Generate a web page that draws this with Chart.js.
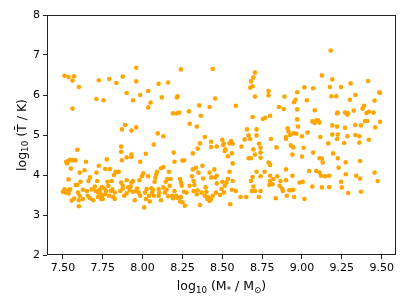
<!DOCTYPE html>
<html>
<head>
<meta charset="utf-8">
<script src="https://cdn.jsdelivr.net/npm/chart.js@4/dist/chart.umd.min.js"></script>
<style>
  html, body { margin: 0; padding: 0; background: #fff; }
  #wrap { width: 407px; height: 305px; }
</style>
</head>
<body>
<div id="wrap"><canvas id="chart" width="407" height="305"></canvas></div>
<script>
// --- data (log10 M* vs log10 T) ---

// hot tail, T above ~5.3
const massHot = [
    7.51, 7.535, 7.57, 7.56, 7.60, 7.56, 7.725, 7.79, 7.835, 7.875,
    7.96, 7.96, 7.90, 7.71, 7.755, 7.985, 8.035, 8.05, 8.035, 8.10,
    8.16, 8.12, 7.94, 8.24, 8.215, 8.22, 8.19, 8.215, 8.23, 8.29,
    8.44, 8.455, 8.355, 8.42, 8.365, 8.585, 8.68, 8.705, 8.695, 8.69,
    8.675, 8.705, 8.69, 8.79, 8.79, 8.755, 8.77, 8.80, 8.855, 8.89,
    8.885, 8.96, 8.95, 8.97, 9.015, 9.07, 9.03, 8.97, 9.08, 9.18,
    9.125, 9.19, 9.175, 9.185, 9.215, 9.245, 9.305, 9.335, 9.30, 9.22,
    9.225, 9.27, 9.285, 9.29, 9.325, 9.415, 9.39, 9.38, 9.405, 9.42,
    9.455, 9.485, 9.49, 9.45, 9.49
];
const tempHot = [
    6.48, 6.45, 6.47, 6.36, 6.20, 5.66, 6.37, 6.40, 6.30, 6.46,
    6.68, 6.34, 6.05, 5.90, 5.87, 6.00, 6.10, 5.81, 5.69, 6.28,
    6.31, 5.94, 5.87, 6.64, 5.94, 5.97, 5.54, 5.54, 5.56, 5.59,
    6.65, 5.91, 5.74, 5.70, 5.48, 5.73, 6.34, 6.56, 6.44, 6.22,
    6.18, 5.96, 5.45, 6.10, 5.99, 5.40, 5.43, 5.48, 5.70, 5.96,
    5.65, 5.88, 5.82, 6.07, 6.19, 6.17, 5.87, 5.64, 5.62, 7.11,
    6.49, 6.39, 6.20, 5.97, 5.97, 6.20, 6.29, 6.00, 5.88, 5.54,
    5.56, 5.56, 5.51, 5.54, 5.61, 6.35, 5.73, 5.66, 5.55, 5.58,
    5.86, 6.07, 6.05, 5.56, 5.33
];

// warm middle band
const massWarm = [
    7.59, 7.865, 7.865, 7.87, 7.87, 7.89, 7.93, 7.96, 7.93, 7.93,
    7.90, 8.02, 8.07, 8.095, 8.13, 8.195, 8.20, 8.25, 8.26, 8.315,
    8.295, 8.34, 8.36, 8.345, 8.39, 8.43, 8.43, 8.465, 8.50, 8.51,
    8.505, 8.52, 8.515, 8.535, 8.555, 8.565, 8.56, 8.565, 8.545, 8.62,
    8.64, 8.655, 8.665, 8.675, 8.665, 8.68, 8.695, 8.705, 8.715, 8.715,
    8.73, 8.74, 8.74, 8.74, 8.805, 8.79, 8.80, 8.84, 8.90, 8.915,
    8.91, 8.90, 8.925, 8.93, 8.945, 8.945, 8.94, 8.965, 8.975, 8.97,
    9.00, 9.01, 9.035, 9.00, 9.065, 9.08, 9.09, 9.10, 9.11, 9.07,
    9.115, 9.11, 9.125, 9.13, 9.19, 9.165, 9.195, 9.19, 9.22, 9.225,
    9.22, 9.225, 9.23, 9.27, 9.285, 9.265, 9.275, 9.335, 9.335, 9.36,
    9.37, 9.36, 9.395, 9.41, 9.42, 9.365, 9.46, 9.455, 9.475
];
const tempWarm = [
    4.63, 4.71, 4.58, 4.37, 5.14, 5.25, 5.11, 5.19, 4.51, 4.45,
    4.44, 4.53, 4.76, 5.04, 4.97, 4.56, 4.33, 4.36, 4.37, 4.54,
    5.28, 5.21, 4.79, 4.66, 4.95, 4.83, 4.70, 4.71, 4.88, 4.78,
    4.75, 4.64, 4.60, 4.47, 4.85, 4.78, 4.54, 4.29, 4.79, 4.71,
    4.89, 5.14, 4.99, 4.90, 4.42, 4.42, 4.64, 4.51, 5.14, 4.99,
    4.78, 4.68, 4.43, 4.56, 4.90, 4.31, 4.25, 4.69, 4.95, 5.09,
    5.17, 4.90, 5.00, 4.74, 5.04, 4.69, 4.51, 5.03, 5.21, 5.39,
    4.97, 4.68, 5.06, 4.46, 5.34, 5.30, 5.37, 5.37, 5.31, 4.56,
    4.95, 4.42, 4.41, 4.31, 5.01, 4.79, 4.54, 5.24, 5.21, 5.01,
    4.90, 4.42, 4.18, 5.18, 4.97, 4.80, 4.32, 5.25, 5.00, 4.97,
    5.24, 4.81, 5.35, 5.35, 4.88, 4.35, 5.19, 4.06, 3.85
];

// dense cool clump around T ~ 10^3.6
const massCool = [
    7.52, 7.525, 7.535, 7.545, 7.555, 7.565, 7.58, 7.55, 7.535, 7.50,
    7.51, 7.515, 7.525, 7.53, 7.54, 7.545, 7.535, 7.555, 7.57, 7.58,
    7.59, 7.595, 7.60, 7.60, 7.605, 7.605, 7.61, 7.625, 7.625, 7.635,
    7.645, 7.65, 7.66, 7.655, 7.67, 7.67, 7.68, 7.69, 7.70, 7.705,
    7.71, 7.715, 7.72, 7.72, 7.725, 7.73, 7.735, 7.74, 7.745, 7.745,
    7.75, 7.76, 7.765, 7.765, 7.77, 7.775, 7.78, 7.785, 7.79, 7.795,
    7.80, 7.805, 7.81, 7.815, 7.82, 7.825, 7.825, 7.83, 7.84, 7.85,
    7.865, 7.86, 7.875, 7.875, 7.885, 7.90, 7.90, 7.91, 7.92, 7.925,
    7.93, 7.94, 7.94, 7.95, 7.96, 7.965, 7.975, 7.98, 7.985, 7.985,
    7.995, 8.005, 8.01, 8.015, 8.02, 8.025, 8.035, 8.04, 8.045, 8.055,
    8.06, 8.065, 8.07, 8.075, 8.08, 8.085, 8.09, 8.10, 8.10, 8.115,
    8.105, 8.115, 8.13, 8.13, 8.14, 8.145, 8.15, 8.155, 8.16, 8.165,
    8.17, 8.175, 8.185, 8.19, 8.20, 8.21, 8.22, 8.235, 8.235, 8.24,
    8.245, 8.24, 8.25, 8.26, 8.265, 8.275, 8.295, 8.31, 8.315, 8.32,
    8.32, 8.325, 8.335, 8.34, 8.345, 8.35, 8.36, 8.37, 8.375, 8.38,
    8.39, 8.395, 8.40, 8.405, 8.41, 8.42, 8.42, 8.43, 8.43, 8.44,
    8.45, 8.455, 8.46, 8.465, 8.465, 8.485, 8.495, 8.50, 8.51, 8.515,
    8.525, 8.535, 8.545, 8.55, 8.56, 8.565, 8.585, 8.615, 8.65, 8.68,
    8.685, 8.695, 8.69, 8.705, 8.715, 8.73, 8.74, 8.74, 8.765, 8.795,
    8.80, 8.80, 8.815, 8.82, 8.835, 8.845, 8.86, 8.865, 8.875, 8.88,
    8.90, 8.90, 8.905, 8.92, 8.93, 8.94, 8.945, 8.95, 8.985, 9.005,
    9.015, 9.045, 9.065, 9.09, 9.11, 9.12, 9.125, 9.145, 9.17, 9.17,
    9.245, 9.25, 9.275, 9.29, 9.34, 9.365, 9.37
];
const tempCool = [
    4.33, 4.29, 4.35, 4.38, 4.37, 4.37, 4.37, 4.16, 3.89, 3.58,
    3.64, 3.56, 3.60, 3.58, 3.62, 3.64, 3.54, 3.36, 3.41, 3.75,
    3.75, 3.56, 3.37, 3.22, 3.48, 4.06, 3.83, 3.63, 3.40, 4.12,
    4.33, 3.60, 3.85, 3.48, 3.42, 3.94, 3.64, 3.37, 3.71, 3.60,
    4.06, 3.85, 3.56, 3.45, 4.23, 3.63, 3.54, 3.40, 3.48, 3.70,
    3.40, 3.66, 4.15, 3.52, 3.60, 4.39, 3.83, 3.73, 3.48, 4.15,
    3.60, 3.85, 3.64, 3.45, 4.00, 3.40, 3.56, 4.08, 4.07, 4.08,
    3.81, 3.60, 3.73, 3.66, 3.48, 3.54, 3.87, 3.69, 3.62, 3.71,
    3.81, 3.58, 3.85, 3.37, 3.60, 3.66, 3.56, 3.87, 3.48, 4.33,
    3.97, 4.04, 3.19, 3.56, 3.40, 3.65, 3.97, 3.48, 3.34, 3.67,
    3.56, 3.63, 3.48, 3.83, 3.93, 4.02, 4.08, 3.65, 3.48, 3.37,
    3.56, 4.17, 4.20, 3.69, 3.56, 3.83, 3.63, 3.90, 3.47, 4.08,
    3.73, 3.90, 3.48, 3.42, 3.60, 3.48, 3.43, 3.34, 3.90, 3.81,
    3.73, 3.45, 3.32, 3.58, 3.23, 3.56, 3.73, 3.97, 4.14, 3.85,
    3.60, 3.75, 4.18, 3.52, 3.62, 4.06, 3.25, 3.56, 4.23, 3.91,
    3.48, 3.69, 3.58, 3.40, 3.45, 3.35, 4.06, 3.94, 3.40, 3.48,
    4.14, 3.94, 3.56, 3.79, 3.98, 3.50, 3.65, 3.83, 3.56, 3.73,
    3.81, 3.90, 4.08, 3.27, 3.63, 3.85, 3.60, 3.45, 3.45, 3.85,
    3.60, 3.71, 3.95, 3.60, 4.08, 3.45, 3.60, 3.97, 4.08, 3.75,
    3.98, 3.85, 3.77, 3.90, 3.42, 3.97, 3.73, 3.85, 3.66, 3.60,
    4.14, 3.87, 3.48, 3.62, 3.62, 3.98, 3.63, 3.45, 3.81, 3.83,
    3.40, 4.10, 3.71, 4.10, 4.06, 3.98, 3.69, 3.97, 3.98, 3.70,
    3.83, 3.69, 4.02, 3.55, 3.98, 3.91, 3.58
];

const xTicks = [7.50, 7.75, 8.00, 8.25, 8.50, 8.75, 9.00, 9.25, 9.50];
const yTicks = [2, 3, 4, 5, 6, 7, 8];

// axis titles as pieces so subscripts can be drawn smaller and lower
const xTitleParts = [['log'], ['10', 'sub'], [' (M'], ['*', 'sub'], [' / M'], ['\u2299', 'sub'], [')']];
const yTitleParts = [['log'], ['10', 'sub'], [' (T\u0304 / K)']];

// --- build points ---

function toPoints(xs, ys) {
    return xs.map((x, i) => ({ x: x, y: ys[i] }));
}

const points = [
    ...toPoints(massCool, tempCool),
    ...toPoints(massWarm, tempWarm),
    ...toPoints(massHot, tempHot)
];

const FONT = "'DejaVu Sans', sans-serif";
const TITLE_SIZE = 12.5;
const SUB_SIZE = 8.75;

function drawParts(ctx, parts, cx, baseY) {
    const fontFor = p => (p[1] === 'sub' ? SUB_SIZE : TITLE_SIZE) + 'px ' + FONT;
    let total = 0;
    parts.forEach(p => { ctx.font = fontFor(p); total += ctx.measureText(p[0]).width; });
    let x = cx - total / 2;
    parts.forEach(p => {
        ctx.font = fontFor(p);
        const dy = p[1] === 'sub' ? 2.6 : 0;
        ctx.fillText(p[0], x, baseY + dy);
        x += ctx.measureText(p[0]).width;
    });
}

// matplotlib style box around the axes, plus the axis titles
const frame = {
    id: 'frame',
    afterDraw(chart) {
        const a = chart.chartArea;
        const ctx = chart.ctx;
        ctx.save();
        ctx.strokeStyle = '#222';
        ctx.lineWidth = 1;
        ctx.strokeRect(a.left + 0.5, a.top + 0.5, a.right - a.left - 1, a.bottom - a.top - 1);

        ctx.fillStyle = '#000';
        ctx.textBaseline = 'alphabetic';
        ctx.textAlign = 'left';
        drawParts(ctx, xTitleParts, (a.left + a.right) / 2, 290);

        ctx.translate(25.5, (a.top + a.bottom) / 2);
        ctx.rotate(-Math.PI / 2);
        drawParts(ctx, yTitleParts, 0, 0);
        ctx.restore();
    }
};

new Chart(document.getElementById('chart'), {
    type: 'scatter',
    data: {
        datasets: [{
            data: points,
            backgroundColor: '#ffa500',
            borderWidth: 0,
            pointRadius: 2.3,
            pointHoverRadius: 2.3
        }]
    },
    options: {
        responsive: false,
        animation: false,
        layout: { padding: { top: 15, right: 11, left: 0, bottom: 0 } },
        plugins: {
            legend: { display: false },
            tooltip: { enabled: false }
        },
        scales: {
            x: {
                type: 'linear',
                min: 7.40,
                max: 9.59,
                afterBuildTicks: s => { s.ticks = xTicks.map(v => ({ value: v })); },
                afterFit: s => { s.height = 50; },
                grid: { drawOnChartArea: false, drawTicks: true, tickLength: 4, tickColor: '#222' },
                border: { display: false },
                ticks: {
                    color: '#000',
                    font: { family: FONT, size: 11 },
                    padding: 3,
                    maxRotation: 0,
                    callback: v => v.toFixed(2)
                },
                title: { display: false }
            },
            y: {
                type: 'linear',
                min: 2,
                max: 8,
                afterBuildTicks: s => { s.ticks = yTicks.map(v => ({ value: v })); },
                afterFit: s => { s.width = 47; },
                grid: { drawOnChartArea: false, drawTicks: true, tickLength: 4, tickColor: '#222' },
                border: { display: false },
                ticks: {
                    color: '#000',
                    font: { family: FONT, size: 11 },
                    padding: 3
                },
                title: { display: false }
            }
        }
    },
    plugins: [frame]
});
</script>
</body>
</html>
